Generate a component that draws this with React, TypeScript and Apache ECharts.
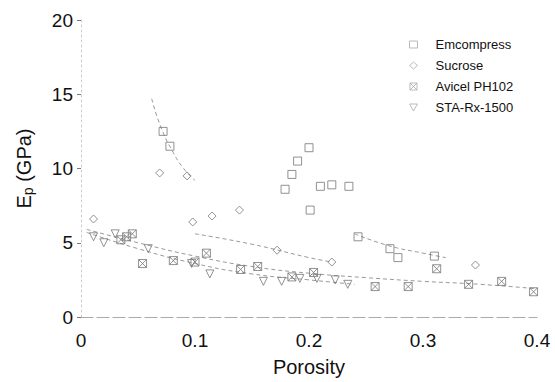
import React, { useEffect, useRef } from "react";
import * as echarts from "echarts";

const seriesNames = ["Emcompress", "Sucrose", "Avicel PH102", "STA-Rx-1500"];

const emcompressPts: [number, number][] = [
  [0.2, 11.4], [0.19, 10.5], [0.185, 9.6], [0.179, 8.6], [0.201, 7.2],
  [0.21, 8.8], [0.22, 8.9], [0.235, 8.8], [0.243, 5.4], [0.271, 4.6],
  [0.278, 4.0], [0.31, 4.1], [0.072, 12.5], [0.078, 11.5],
];
const sucrosePts: [number, number][] = [
  [0.011, 6.6], [0.069, 9.7], [0.093, 9.5], [0.098, 6.4], [0.115, 6.8],
  [0.139, 7.2], [0.172, 4.5], [0.22, 3.7], [0.346, 3.5],
];
const avicelPts: [number, number][] = [
  [0.035, 5.2], [0.04, 5.4], [0.045, 5.6], [0.054, 3.6], [0.081, 3.8],
  [0.1, 3.7], [0.11, 4.3], [0.14, 3.2], [0.155, 3.4], [0.185, 2.7],
  [0.204, 3.0], [0.258, 2.05], [0.287, 2.05], [0.312, 3.25], [0.34, 2.2],
  [0.369, 2.4], [0.397, 1.7],
];
const staPts: [number, number][] = [
  [0.011, 5.4], [0.02, 5.0], [0.03, 5.6], [0.059, 4.6], [0.097, 3.6],
  [0.113, 2.9], [0.16, 2.4], [0.176, 2.4], [0.192, 2.6], [0.207, 2.6],
  [0.223, 2.5], [0.234, 2.2],
];

const emcompressFitHigh: [number, number][] = [
  [0.062, 14.7], [0.07, 12.8], [0.08, 11.2], [0.09, 10.0], [0.1, 9.2],
];
const emcompressFitLow: [number, number][] = [
  [0.24, 5.6], [0.27, 4.8], [0.3, 4.3], [0.32, 4.0],
];
const sucroseFit: [number, number][] = [
  [0.1, 5.6], [0.15, 4.9], [0.2, 4.0], [0.22, 3.7],
];
const avicelFit: [number, number][] = [
  [0.005, 5.9], [0.05, 5.0], [0.1, 4.1], [0.15, 3.4], [0.2, 2.95],
  [0.25, 2.65], [0.3, 2.4], [0.35, 2.2], [0.4, 1.9],
];
const staFit: [number, number][] = [
  [0.005, 5.7], [0.05, 4.6], [0.1, 3.6], [0.15, 2.9], [0.2, 2.5], [0.24, 2.2],
];

const xTicks = { min: 0, max: 0.4, interval: 0.1 };
const yTicks = { min: 0, max: 20, interval: 5 };

const symbols = [
  "rect",
  "diamond",
  "path://M0,0H10V10H0Z M0,0L10,10 M10,0L0,10",
  "path://M0,0L10,0L5,9Z",
];

export default function App() {
  const ref = useRef<HTMLDivElement>(null);
  useEffect(() => {
    document.body.style.margin = "0";
    if (!ref.current) return;
    const chart = echarts.init(ref.current, undefined, { renderer: "svg" });
    const pts = [emcompressPts, sucrosePts, avicelPts, staPts];
    const scatter = pts.map((d, i) => ({
      name: seriesNames[i],
      type: "scatter",
      data: d,
      symbol: symbols[i],
      symbolSize: 8,
      itemStyle: { color: "rgba(255,255,255,0)", borderColor: "#777", borderWidth: 1 },
      z: 3,
    }));
    const fits = [emcompressFitHigh, emcompressFitLow, sucroseFit, avicelFit, staFit].map((d) => ({
      type: "line",
      data: d,
      smooth: true,
      showSymbol: false,
      silent: true,
      lineStyle: { color: "#999", width: 1, type: [4, 3] },
      z: 2,
    }));
    chart.setOption({
      animation: false,
      grid: { left: 81, right: 18, top: 20, bottom: 61 },
      legend: {
        orient: "vertical",
        left: 404,
        top: 33,
        itemWidth: 8,
        itemHeight: 7,
        itemGap: 8,
        data: seriesNames,
        textStyle: {
          fontFamily: "Liberation Sans",
          fontSize: 13,
          color: "#111",
          padding: [0, 0, 0, 13],
        },
        itemStyle: { color: "rgba(255,255,255,0)", borderColor: "#aaa", borderWidth: 1 },
      },
      xAxis: {
        type: "value",
        ...xTicks,
        name: "Porosity",
        nameLocation: "middle",
        nameGap: 40,
        nameTextStyle: { fontFamily: "Liberation Sans", fontSize: 20, color: "#111" },
        axisLine: { show: true, lineStyle: { color: "#aaa", type: [12, 4] } },
        axisTick: { show: false },
        splitLine: { show: false },
        axisLabel: { fontFamily: "Liberation Sans", fontSize: 19, color: "#111", margin: 14 },
      },
      yAxis: {
        type: "value",
        ...yTicks,
        name: "{a|E}{b|p}{a| (GPa)}",
        nameLocation: "middle",
        nameGap: 46,
        nameTextStyle: {
          fontFamily: "Liberation Sans",
          color: "#111",
          rich: {
            a: { fontFamily: "Liberation Sans", fontSize: 20, color: "#111" },
            b: { fontFamily: "Liberation Sans", fontSize: 14, color: "#111", padding: [8, 0, 0, 0] },
          },
        },
        axisLine: { show: true, lineStyle: { color: "#ccc", type: [2, 3] } },
        axisTick: { show: true, length: 4, lineStyle: { color: "#777" } },
        splitLine: { show: false },
        axisLabel: { fontFamily: "Liberation Sans", fontSize: 19, color: "#111", margin: 8 },
      },
      series: [...fits, ...scatter],
    });
    return () => chart.dispose();
  }, []);
  return <div ref={ref} style={{ width: 555, height: 382 }} />;
}
